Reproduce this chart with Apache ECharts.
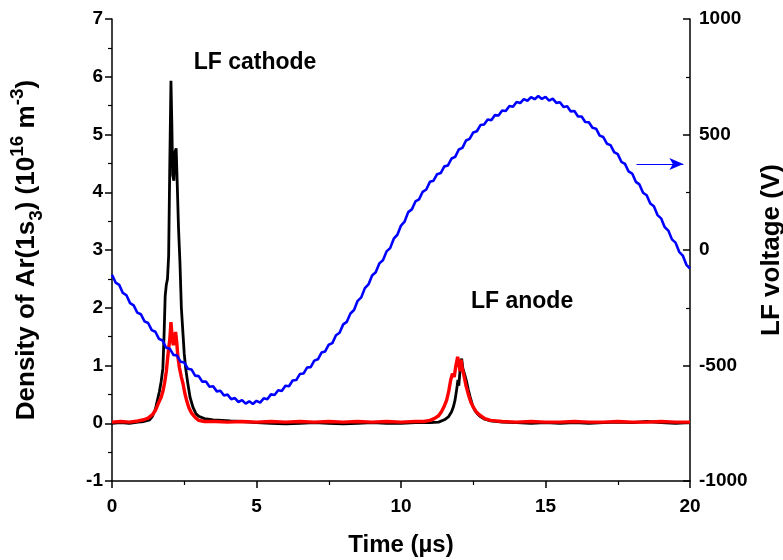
<!DOCTYPE html>
<html>
<head>
<meta charset="utf-8">
<script src="https://cdn.jsdelivr.net/npm/echarts@6/dist/echarts.min.js"></script>
<style>
html,body{margin:0;padding:0;background:#fff;}
#chart{width:783px;height:560px;}
</style>
</head>
<body>
<div id="chart"></div>
<script>
// ---- data ----
const voltageStart = 0;      // µs
const voltageStep = 0.125;   // µs
const voltage = [
-107,-141,-151,-186,-196,-230,-240,-271,-278,-309,-316,-347,-354,-385,-392,-423,
-427,-454,-457,-484,-487,-514,-517,-544,-546,-570,-569,-592,-590,-612,-609,-630,
-626,-646,-641,-658,-650,-665,-655,-667,-653,-661,-642,-646,-625,-628,-607,-610,
-588,-590,-565,-563,-537,-535,-509,-507,-479,-473,-444,-439,-410,-403,-369,-358,
-322,-311,-275,-260,-220,-205,-165,-149,-110,-96,-58,-44,-6,8,49,66,
106,123,164,176,210,219,252,262,295,300,328,333,362,366,396,403,
435,442,474,481,509,514,541,543,565,562,584,582,604,602,623,620,
641,636,653,646,662,653,667,654,663,647,655,637,640,619,622,600,
602,578,578,554,553,529,525,495,489,460,454,424,415,382,373,340,
331,295,284,248,237,201,189,151,137,99,84,46,32,-8,-24,-64,
-80
];

const cathodeTime = [0,0.3,0.6,0.9,1.1,1.3,1.4,1.5,1.58,1.64,1.7,1.76,1.8,1.84,1.88,1.92,1.96,2.0,2.04,2.07,2.1,2.14,2.18,2.22,2.26,2.3,2.35,2.4,2.45,2.5,2.55,2.62,2.7,2.8,2.9,3.0,3.2,3.5,3.8,4.1,4.5,5.0,5.5,6.0,6.5,7.0,7.5,8.0,8.5,9.0,9.5,10.0,10.5,11.0,11.3,11.5,11.64,11.75,11.81,11.87,11.93,11.97,12.0,12.04,12.08,12.1,12.14,12.2,12.27,12.33,12.39,12.48,12.56,12.65,12.73,12.9,13.1,13.5,14.0,14.5,15.0,15.5,16.0,16.5,17.0,17.5,18.0,18.5,19.0,19.5,20.0];
const cathodeDensity = [0.0,0.01,0.0,0.02,0.03,0.06,0.12,0.24,0.42,0.55,0.72,0.95,1.5,2.2,2.4,2.5,2.9,4.5,5.93,5.2,4.3,4.2,4.7,4.76,4.1,3.4,2.8,2.0,1.6,1.2,0.95,0.7,0.45,0.28,0.17,0.12,0.08,0.06,0.05,0.04,0.03,0.01,0.0,-0.01,0.0,0.01,0.0,-0.01,0.0,0.01,0.0,0.0,0.01,0.01,0.02,0.06,0.11,0.2,0.28,0.4,0.6,0.75,0.65,0.9,1.05,1.12,0.95,0.85,0.72,0.58,0.46,0.3,0.22,0.16,0.12,0.07,0.04,0.02,0.01,0.0,0.01,0.0,0.01,0.0,0.01,0.02,0.01,0.03,0.01,0.0,0.01];

const anodeTime = [0,0.3,0.6,0.9,1.1,1.25,1.4,1.5,1.6,1.7,1.76,1.82,1.88,1.92,1.96,2.0,2.04,2.08,2.12,2.16,2.2,2.24,2.28,2.33,2.4,2.46,2.52,2.58,2.66,2.76,2.88,3.0,3.2,3.6,4.0,4.5,5.0,5.5,6.0,6.5,7.0,7.5,8.0,8.5,9.0,9.5,10.0,10.5,10.8,11.0,11.15,11.3,11.4,11.5,11.58,11.65,11.72,11.78,11.84,11.9,11.96,12.0,12.04,12.08,12.12,12.18,12.25,12.33,12.42,12.5,12.6,12.73,12.9,13.1,13.5,14.0,14.5,15.0,15.5,16.0,16.5,17.0,17.5,18.0,18.5,19.0,19.5,20.0];
const anodeDensity = [0.02,0.03,0.02,0.04,0.06,0.09,0.15,0.22,0.34,0.45,0.55,0.7,0.9,1.1,1.3,1.45,1.75,1.5,1.35,1.45,1.58,1.4,1.15,0.97,0.8,0.68,0.52,0.4,0.27,0.17,0.1,0.05,0.03,0.03,0.02,0.03,0.02,0.03,0.02,0.03,0.02,0.03,0.02,0.03,0.02,0.03,0.02,0.03,0.03,0.05,0.08,0.13,0.2,0.3,0.4,0.55,0.75,0.86,0.8,1.0,1.15,1.05,0.9,1.1,0.95,0.82,0.65,0.5,0.36,0.28,0.2,0.14,0.08,0.05,0.03,0.02,0.03,0.02,0.02,0.03,0.02,0.02,0.03,0.02,0.02,0.03,0.02,0.02];

const xTicks = {min: 0, max: 20, interval: 5};
const leftTicks = {min: -1, max: 7, interval: 1};
const rightTicks = {min: -1000, max: 1000, interval: 500};

const arrowStart = [18.15, 372];
const arrowEnd = [19.77, 372];
const cathodeLabelPos = [4.95, 6.25];
const anodeLabelPos = [14.19, 2.11];

// ---- build ----
const zip = (a, b) => a.map((v, i) => [v, b[i]]);
const voltageData = voltage.map((v, i) => [voltageStart + i * voltageStep, v]);

const FONT = 'Liberation Sans, Arial, sans-serif';
const axisCommon = {
  axisLine: {show: true, onZero: false, lineStyle: {color: '#000', width: 1.5}},
  axisTick: {show: true, length: 7, lineStyle: {color: '#000', width: 1.5}},
  minorTick: {show: true, splitNumber: 2, length: 4, lineStyle: {color: '#000', width: 1.2}},
  splitLine: {show: false},
  axisLabel: {color: '#000', fontFamily: FONT, fontWeight: 'bold', fontSize: 19, margin: 9,
              formatter: v => String(v)}
};

const chart = echarts.init(document.getElementById('chart'), null, {renderer: 'canvas'});
chart.setOption({
  animation: false,
  backgroundColor: '#fff',
  grid: {left: 112, right: 93, top: 19, bottom: 79, containLabel: false, outerBoundsMode: 'none'},
  xAxis: Object.assign({}, axisCommon, {
    type: 'value', min: xTicks.min, max: xTicks.max, interval: xTicks.interval,
    axisLabel: Object.assign({}, axisCommon.axisLabel, {margin: 16}),
    name: 'Time (µs)', nameLocation: 'middle', nameGap: 52,
    nameTextStyle: {color: '#000', fontFamily: FONT, fontWeight: 'bold', fontSize: 24}
  }),
  yAxis: [
    Object.assign({}, axisCommon, {
      type: 'value', position: 'left', min: leftTicks.min, max: leftTicks.max, interval: leftTicks.interval,
      name: 'Density of Ar(1s{sub|3}) (10{sup|16} m{sup|-3})',
      nameLocation: 'middle', nameGap: 66, nameRotate: 90,
      nameTextStyle: {
        color: '#000', fontFamily: FONT, fontWeight: 'bold', fontSize: 26, lineHeight: 38,
        rich: {
          sub: {fontFamily: FONT, fontWeight: 'bold', fontSize: 19, verticalAlign: 'bottom', lineHeight: 38, color: '#000'},
          sup: {fontFamily: FONT, fontWeight: 'bold', fontSize: 19, verticalAlign: 'top', lineHeight: 38, color: '#000'}
        }
      }
    }),
    Object.assign({}, axisCommon, {
      type: 'value', position: 'right', min: rightTicks.min, max: rightTicks.max, interval: rightTicks.interval,
      axisTick: {show: true, inside: true, length: 7, lineStyle: {color: '#000', width: 1.5}},
      name: 'LF voltage (V)', nameLocation: 'middle', nameGap: 63, nameRotate: 90,
      nameTextStyle: {color: '#000', fontFamily: FONT, fontWeight: 'bold', fontSize: 26}
    })
  ],
  series: [
    {
      name: 'cathode', type: 'line', data: zip(cathodeTime, cathodeDensity), yAxisIndex: 0,
      showSymbol: false, symbol: 'none', lineStyle: {color: '#000', width: 2.8}, z: 2
    },
    {
      name: 'anode', type: 'line', data: zip(anodeTime, anodeDensity), yAxisIndex: 0,
      showSymbol: false, symbol: 'none', lineStyle: {color: '#ff0000', width: 3.4}, z: 3
    },
    {
      name: 'voltage', type: 'line', data: voltageData, yAxisIndex: 1,
      showSymbol: false, symbol: 'none', lineStyle: {color: '#0000ff', width: 2.6}, z: 4,
      markLine: {
        silent: true, symbol: ['none', 'arrow'], symbolSize: [9, 14],
        lineStyle: {color: '#0000ff', width: 1.2, type: 'solid'},
        label: {show: false},
        data: [[{coord: arrowStart}, {coord: arrowEnd}]]
      }
    }
  ]
});

function placeLabels() {
  const p1 = chart.convertToPixel({xAxisIndex: 0, yAxisIndex: 0}, cathodeLabelPos);
  const p2 = chart.convertToPixel({xAxisIndex: 0, yAxisIndex: 0}, anodeLabelPos);
  const style = {fill: '#000', font: 'bold 23px ' + FONT, textAlign: 'center', textVerticalAlign: 'middle'};
  chart.setOption({
    graphic: [
      {type: 'text', x: p1[0], y: p1[1], style: Object.assign({text: 'LF cathode'}, style), z: 10},
      {type: 'text', x: p2[0], y: p2[1], style: Object.assign({text: 'LF anode'}, style), z: 10}
    ]
  });
}
placeLabels();
</script>
</body>
</html>
